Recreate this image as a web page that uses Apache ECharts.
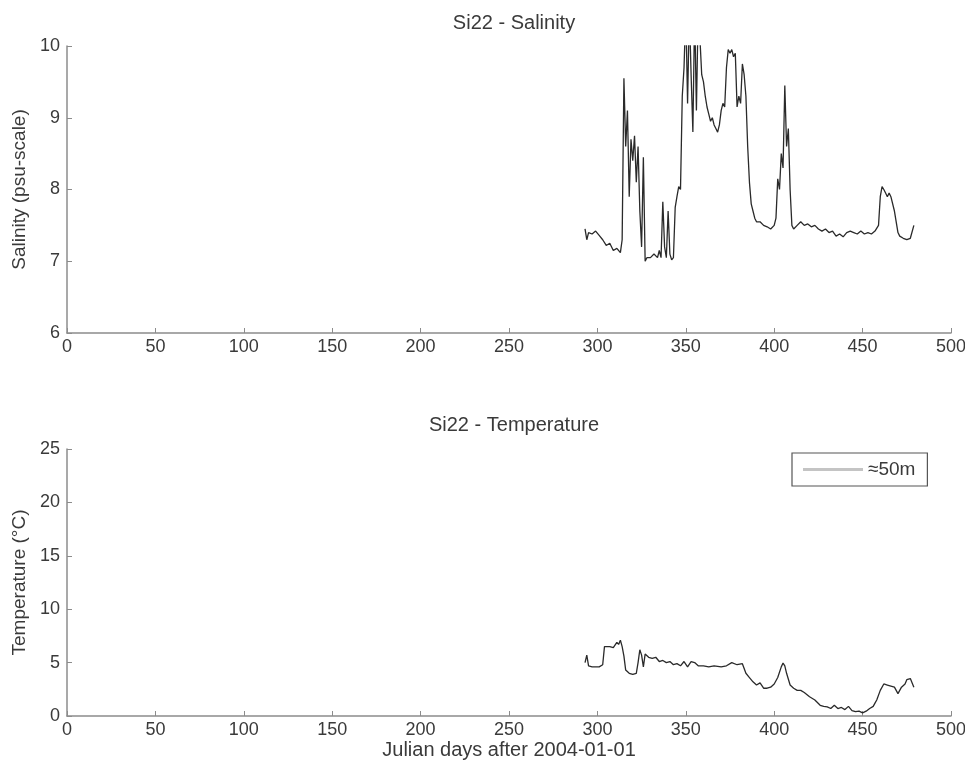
<!DOCTYPE html>
<html>
<head>
<meta charset="utf-8">
<script src="https://cdn.jsdelivr.net/npm/echarts@6/dist/echarts.min.js"></script>
<style>html,body{margin:0;padding:0;background:#fff}#c{width:965px;height:771px}</style>
</head>
<body>
<div id="c"></div>
<script>
var xTicks = [0, 50, 100, 150, 200, 250, 300, 350, 400, 450, 500];
var salDays = [293,294,295,297,299,301,303,305,307,309,311,313,314,315,316,317,318,319,320,321,322,323,324,325,326,327,328,330,332,334,335,336,337,338,339,340,341,342,343,344,345,346,347,348,349,350,351,352,353,354,355,356,357,358,359,360,361,362,363,364,365,366,367,368,369,370,371,372,373,374,375,376,377,378,379,380,381,382,383,384,385,386,387,388,389,390,392,394,396,398,400,401,402,403,404,405,406,407,408,409,410,411,413,415,417,419,421,423,425,427,429,431,433,435,437,439,441,443,445,447,449,451,453,455,457,459,460,461,462,463,464,465,466,467,468,469,470,471,473,475,477,478,479];
var salVals = [7.45,7.30,7.40,7.38,7.42,7.36,7.30,7.22,7.25,7.15,7.18,7.12,7.30,9.55,8.6,9.1,7.9,8.7,8.4,8.75,8.1,8.6,7.7,7.2,8.45,7.0,7.05,7.05,7.1,7.05,7.15,7.05,7.83,7.2,7.05,7.7,7.1,7.02,7.05,7.75,7.9,8.04,8.0,9.3,9.7,10.5,9.2,10.5,9.6,8.8,10.5,9.1,10.5,10.1,9.6,9.5,9.3,9.15,9.05,8.95,9.0,8.9,8.85,8.8,8.9,9.1,9.2,9.15,9.7,9.95,9.9,9.95,9.85,9.9,9.15,9.3,9.2,9.75,9.6,9.3,8.6,8.1,7.8,7.7,7.6,7.55,7.55,7.5,7.48,7.45,7.5,7.6,8.15,8.0,8.5,8.3,9.45,8.6,8.85,8.0,7.5,7.45,7.5,7.55,7.5,7.52,7.48,7.5,7.45,7.42,7.45,7.4,7.42,7.35,7.38,7.34,7.4,7.42,7.4,7.38,7.42,7.38,7.4,7.38,7.42,7.5,7.9,8.04,8.0,7.95,7.9,7.95,7.9,7.88,7.7,7.55,7.4,7.35,7.32,7.3,7.32,7.3,7.5];
var tempDays = [293,294,295,297,299,301,303,304,305,307,309,311,312,313,314,315,316,318,320,322,323,324,325,326,327,329,331,333,335,337,339,341,343,345,347,349,351,353,355,357,360,363,366,370,373,376,379,382,384,386,388,390,392,394,396,398,400,402,404,405,406,407,409,411,413,415,417,420,423,426,428,430,432,434,436,438,440,442,444,446,448,450,452,454,456,457,458,460,462,464,466,468,470,472,474,475,477,479];
var tempVals = [5.0,5.7,4.7,4.6,4.6,4.6,4.8,6.5,6.4,6.5,6.4,6.9,6.7,7.1,6.5,5.6,4.3,4.0,3.9,4.0,5.0,6.2,5.7,4.6,5.8,5.5,5.4,5.5,5.1,5.2,5.0,5.1,4.8,4.9,4.7,5.1,4.6,5.1,5.0,4.7,4.7,4.6,4.7,4.6,4.7,5.0,4.8,4.9,4.0,3.6,3.2,2.9,3.1,2.6,2.6,2.7,3.0,3.6,4.6,4.96,4.7,4.0,2.9,2.6,2.4,2.4,2.2,1.8,1.5,1.0,0.9,0.85,0.7,1.0,0.7,0.8,0.6,0.9,0.5,0.4,0.45,0.3,0.45,0.7,0.9,1.2,1.5,2.4,3.0,2.9,2.8,2.7,2.1,2.7,3.0,3.4,3.5,2.7];

function zip(a, b) { return a.map(function (d, i) { return [d, b[i]]; }); }

var axisGray = '#8c8c8c';
var FONT = 'Liberation Sans';
var labelStyle = { color: '#3a3a3a', fontSize: 18, fontFamily: FONT };

function xAxis(idx, name) {
  return {
    type: 'value', gridIndex: idx, min: 0, max: 500, interval: 50,
    axisLine: { show: true, onZero: false, lineStyle: { color: axisGray, width: 1.5 } },
    axisTick: { show: true, inside: true, length: 5, lineStyle: { color: axisGray } },
    axisLabel: Object.assign({ margin: 5, showMaxLabel: true, showMinLabel: true }, labelStyle),
    splitLine: { show: false },
    name: name || '', nameLocation: 'middle', nameGap: 24,
    nameTextStyle: { color: '#3a3a3a', fontSize: 20, fontFamily: FONT }
  };
}
function yAxis(idx, min, max, interval, name) {
  return {
    type: 'value', gridIndex: idx, min: min, max: max, interval: interval,
    axisLine: { show: true, lineStyle: { color: axisGray, width: 1.5 } },
    axisTick: { show: true, inside: true, length: 5, lineStyle: { color: axisGray } },
    axisLabel: Object.assign({ margin: 7 }, labelStyle),
    splitLine: { show: false },
    name: name, nameLocation: 'middle', nameGap: 36, nameRotate: 90,
    nameTextStyle: { color: '#3a3a3a', fontSize: 19, fontFamily: FONT }
  };
}

var chart = echarts.init(document.getElementById('c'), null, { renderer: 'canvas' });
chart.setOption({
  animation: false,
  backgroundColor: '#fff',
  title: [
    { text: 'Si22 - Salinity', left: 509, top: 8, textAlign: 'center',
      textStyle: { color: '#3a3a3a', fontSize: 20, fontWeight: 'normal', fontFamily: FONT } },
    { text: 'Si22 - Temperature', left: 509, top: 410, textAlign: 'center',
      textStyle: { color: '#3a3a3a', fontSize: 20, fontWeight: 'normal', fontFamily: FONT } }
  ],
  grid: [
    { left: 67, right: 14, top: 46, height: 287, containLabel: false, outerBoundsMode: 'none' },
    { left: 67, right: 14, top: 449, height: 267, containLabel: false, outerBoundsMode: 'none' }
  ],
  legend: {
    show: true, left: 792, top: 453, orient: 'vertical',
    data: [{ name: '≈50m', icon: 'rect', itemStyle: { color: '#c4c4c4' }, lineStyle: { color: '#c4c4c4' } }],
    itemWidth: 60, itemHeight: 3, itemGap: 4,
    borderColor: '#555', borderWidth: 1.2, borderRadius: 0,
    padding: [7, 12, 7, 11],
    textStyle: { color: '#3a3a3a', fontSize: 19, fontFamily: FONT }
  },
  xAxis: [xAxis(0), xAxis(1, 'Julian days after 2004-01-01')],
  yAxis: [
    yAxis(0, 6, 10, 1, 'Salinity (psu-scale)'),
    yAxis(1, 0, 25, 5, 'Temperature (°C)')
  ],
  series: [
    { name: 'Salinity', type: 'line', xAxisIndex: 0, yAxisIndex: 0, data: zip(salDays, salVals),
      showSymbol: false, clip: true, lineStyle: { color: '#2a2a2a', width: 1.3 }, itemStyle: { color: '#2a2a2a' } },
    { name: '≈50m', type: 'line', xAxisIndex: 1, yAxisIndex: 1, data: zip(tempDays, tempVals),
      showSymbol: false, clip: true, lineStyle: { color: '#2a2a2a', width: 1.3 }, itemStyle: { color: '#2a2a2a' } }
  ]
});
</script>
</body>
</html>
